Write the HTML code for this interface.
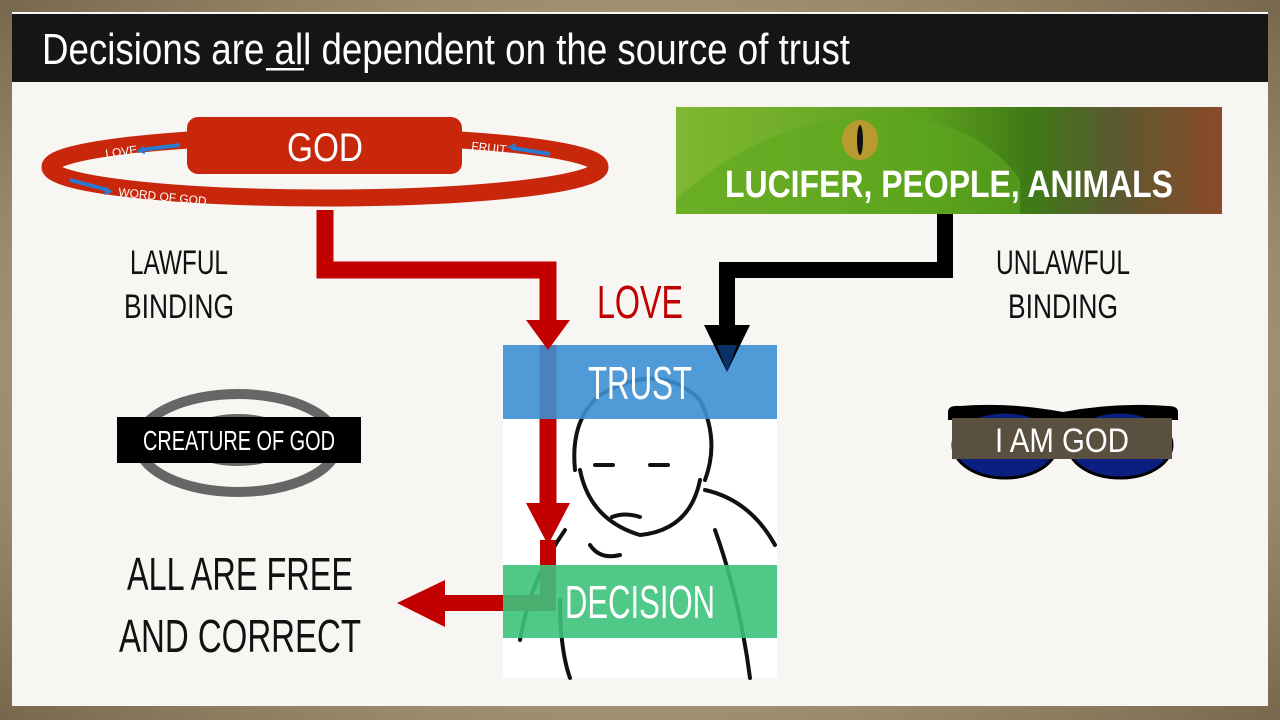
<!DOCTYPE html>
<html><head><meta charset="utf-8"><style>
html,body{margin:0;padding:0;width:1280px;height:720px;overflow:hidden;background:#8c7c62}
svg{display:block}
text{font-family:"Liberation Sans Narrow","Liberation Sans",sans-serif}
</style></head><body>
<svg width="1280" height="720" viewBox="0 0 1280 720">
<defs>
<radialGradient id="fr" cx="50%" cy="50%" r="75%"><stop offset="0.6" stop-color="#a89878"/><stop offset="1" stop-color="#6e5e44"/></radialGradient>
<linearGradient id="sn" x1="0" y1="0" x2="1" y2="0"><stop offset="0" stop-color="#7fb832"/><stop offset="0.45" stop-color="#5ea01e"/><stop offset="0.65" stop-color="#3e7a16"/><stop offset="0.8" stop-color="#5a5a30"/><stop offset="1" stop-color="#8a4a2a"/></linearGradient>
</defs>
<rect width="1280" height="720" fill="url(#fr)"/>
<rect x="12" y="12" width="1256" height="694" fill="#f8f6f2"/>
<rect x="12" y="14" width="1256" height="68" fill="#151515"/>
<text x="42" y="64" font-size="44" fill="#fff" textLength="808" lengthAdjust="spacingAndGlyphs">Decisions are all dependent on the source of trust</text>
<rect x="266" y="68" width="38" height="2.5" fill="#fff"/>

<!-- God ring -->
<ellipse cx="325" cy="167" rx="275" ry="31" fill="none" stroke="#c8270c" stroke-width="17"/>
<rect x="187" y="117" width="275" height="57" rx="11" fill="#c8270c"/>
<text x="325" y="161" font-size="40" fill="#fff" text-anchor="middle" textLength="76" lengthAdjust="spacingAndGlyphs">GOD</text>
<text x="106" y="158" font-size="12" fill="#fff" transform="rotate(-8 106 158)">LOVE</text>
<path d="M140 150 L180 145" stroke="#2a7ad0" stroke-width="4"/><path d="M136 151 l8 -5 l1 8z" fill="#2a7ad0"/>
<text x="471" y="150" font-size="12" fill="#fff" transform="rotate(6 471 150)">FRUIT</text>
<path d="M512 148 L550 154" stroke="#2a7ad0" stroke-width="4"/><path d="M507 147 l9 -4 l-1 8z" fill="#2a7ad0"/>
<path d="M70 180 L108 190" stroke="#2a7ad0" stroke-width="4"/><path d="M113 192 l-9 3 l2 -8z" fill="#2a7ad0"/>
<text x="118" y="196" font-size="12" fill="#fff" transform="rotate(6 118 196)">WORD OF GOD</text>

<text x="179" y="274" font-size="34" fill="#111" text-anchor="middle" textLength="98" lengthAdjust="spacingAndGlyphs">LAWFUL</text>
<text x="179" y="318" font-size="34" fill="#111" text-anchor="middle" textLength="110" lengthAdjust="spacingAndGlyphs">BINDING</text>
<text x="1063" y="274" font-size="34" fill="#111" text-anchor="middle" textLength="134" lengthAdjust="spacingAndGlyphs">UNLAWFUL</text>
<text x="1063" y="318" font-size="34" fill="#111" text-anchor="middle" textLength="110" lengthAdjust="spacingAndGlyphs">BINDING</text>
<text x="640" y="318" font-size="46" fill="#c00000" text-anchor="middle" textLength="86" lengthAdjust="spacingAndGlyphs">LOVE</text>

<!-- snake -->
<rect x="676" y="107" width="546" height="107" fill="url(#sn)"/>
<path d="M676 200 Q760 120 880 115 Q980 120 1020 180 L1020 214 L676 214Z" fill="#5ea81e" opacity="0.6"/>
<ellipse cx="860" cy="140" rx="18" ry="20" fill="#b89a30"/>
<ellipse cx="860" cy="140" rx="3" ry="15" fill="#111"/>
<text x="949" y="197" font-size="38" font-weight="bold" fill="#fff" text-anchor="middle" textLength="448" lengthAdjust="spacingAndGlyphs">LUCIFER, PEOPLE, ANIMALS</text>

<!-- child box -->
<rect x="503" y="345" width="274" height="333" fill="#fff"/>
<g fill="none" stroke="#111" stroke-width="4" stroke-linecap="round">
<path d="M575 470 Q570 420 600 395 Q660 360 700 400 Q720 440 705 480"/>
<path d="M580 470 Q590 520 640 535 Q690 530 700 480"/>
<path d="M595 465 l18 0 M650 465 l18 0"/>
<path d="M612 517 Q625 512 640 517"/>
<path d="M705 490 Q750 500 775 545"/>
<path d="M565 530 Q530 580 520 640"/>
<path d="M590 545 Q600 560 620 555"/>
<path d="M715 530 Q740 600 750 678"/>
<path d="M560 600 Q560 650 570 678"/>
</g>
<!-- red connector (under bands) -->
<path d="M548 345 V505" stroke="#c20000" stroke-width="17"/>
<path d="M526 503 H570 L548 545 Z" fill="#c20000"/>
<path d="M548 540 V603 H440" fill="none" stroke="#c20000" stroke-width="16"/>
<rect x="503" y="345" width="274" height="74" fill="#3d8fd4" opacity="0.9"/>
<text x="640" y="399" font-size="46" fill="#fff" text-anchor="middle" textLength="104" lengthAdjust="spacingAndGlyphs">TRUST</text>
<rect x="503" y="565" width="274" height="73" fill="#3dc27a" opacity="0.9"/>
<text x="640" y="618" font-size="46" fill="#fff" text-anchor="middle" textLength="150" lengthAdjust="spacingAndGlyphs">DECISION</text>

<path d="M325 210 V270 H548 V322" fill="none" stroke="#c20000" stroke-width="17"/>
<path d="M526 320 H570 L548 350 Z" fill="#c20000"/>
<path d="M445 580 V627 L397 603 Z" fill="#c20000"/>

<!-- black connector -->
<path d="M945 214 V270 H727 V330" fill="none" stroke="#000" stroke-width="16"/>
<path d="M704 325 H750 L727 372 Z" fill="#000"/>
<path d="M727 345 L737 345 L727 372 L717 345Z" fill="#0a3f80" opacity="0.8"/>

<!-- creature -->
<ellipse cx="238" cy="443" rx="100" ry="49" fill="none" stroke="#666" stroke-width="10"/>
<ellipse cx="238" cy="440" rx="50" ry="22" fill="none" stroke="#666" stroke-width="8"/>
<rect x="117" y="417" width="244" height="46" fill="#000"/>
<text x="239" y="450" font-size="28" fill="#fff" text-anchor="middle" textLength="192" lengthAdjust="spacingAndGlyphs">CREATURE OF GOD</text>

<!-- glasses -->
<path d="M948 412 Q948 405 960 406 Q1010 402 1063 412 Q1115 402 1168 406 Q1178 406 1178 412 V420 H948Z" fill="#000"/>
<ellipse cx="1005" cy="445" rx="52" ry="33" fill="#0b1f80" stroke="#000" stroke-width="3"/>
<ellipse cx="1120" cy="445" rx="52" ry="33" fill="#0b1f80" stroke="#000" stroke-width="3"/>
<rect x="952" y="418" width="220" height="41" fill="#5a5040"/>
<text x="1062" y="452" font-size="34" fill="#fff" text-anchor="middle" textLength="134" lengthAdjust="spacingAndGlyphs">I AM GOD</text>

<text x="240" y="590" font-size="46" fill="#111" text-anchor="middle" textLength="226" lengthAdjust="spacingAndGlyphs">ALL ARE FREE</text>
<text x="240" y="652" font-size="46" fill="#111" text-anchor="middle" textLength="242" lengthAdjust="spacingAndGlyphs">AND CORRECT</text>
</svg>
</body></html>
